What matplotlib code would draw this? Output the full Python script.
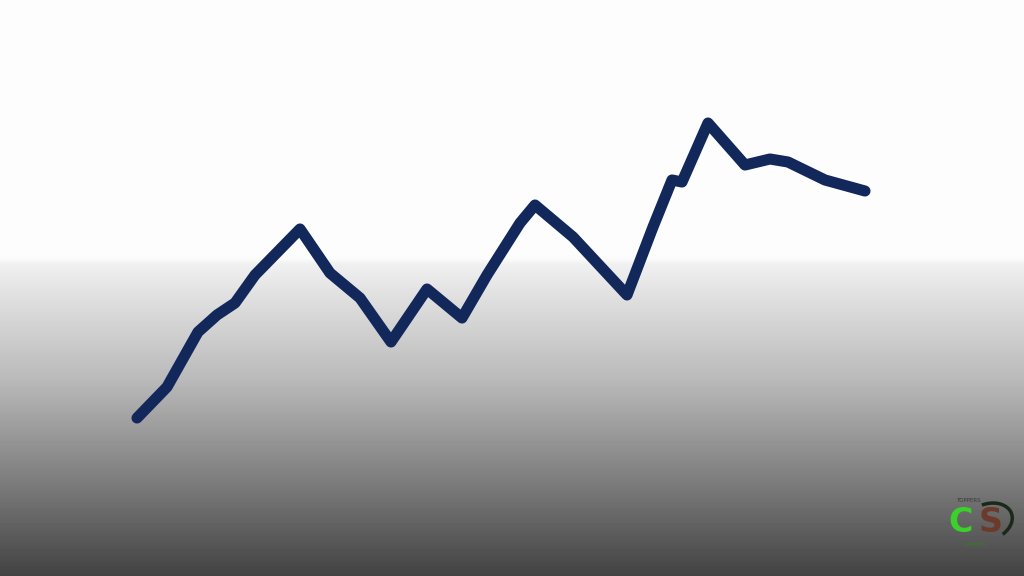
import numpy as np
import matplotlib.pyplot as plt
from matplotlib.patches import Arc

# line data (x position, value)
x_vals = [137, 167, 198, 217, 235, 255, 300, 330, 360, 391, 427, 462, 487, 520,
          535, 573, 627, 653, 672, 682, 708, 745, 770, 788, 825, 865]
y_vals = [158, 189, 244, 261, 273, 301, 347, 303, 278, 234, 287, 258, 301, 353,
          371, 339, 281, 349, 396, 394, 453, 411, 417, 414, 396, 385]

# background shade: height (from top) -> grey level
bg_rows = [0, 258, 264, 300, 380, 480, 576]
bg_grey = [253, 252, 240, 222, 185, 125, 66]

W, H = 1024, 576
fig = plt.figure(figsize=(W / 100, H / 100), dpi=100)
ax = fig.add_axes([0, 0, 1, 1])
ax.set_xlim(0, W)
ax.set_ylim(0, H)
ax.axis('off')

rows = np.arange(H)
grey = np.interp(rows, bg_rows, bg_grey) / 255.0
img = np.repeat(grey[:, None], 2, axis=1)
ax.imshow(img, cmap='gray', vmin=0, vmax=1, aspect='auto',
          extent=[0, W, 0, H], origin='upper', zorder=0)

ax.plot(x_vals, y_vals, color='#12285a', lw=8, solid_joinstyle='round',
        solid_capstyle='round', zorder=3)

# logo, bottom right
ax.text(961, 54, 'C', color='#3ad12a', fontsize=24, fontweight='bold',
        ha='center', va='center', family='DejaVu Sans', zorder=4)
ax.text(991, 54, 'S', color='#6b3a2a', fontsize=24, fontweight='bold',
        ha='center', va='center', family='DejaVu Sans', zorder=4)
ax.add_patch(Arc((988, 54), 50, 36, angle=20, theta1=-60, theta2=90,
                 color='#1a2a1a', lw=2.5, zorder=5))
ax.text(968, 75, 'TOPPERS', color='#3a3a3a', fontsize=4, ha='center',
        va='center', zorder=4)
ax.text(975, 31, 'CAMPUS', color='#3a7a2a', fontsize=4, ha='center',
        va='center', zorder=4)

fig.savefig('out.png', dpi=100)
